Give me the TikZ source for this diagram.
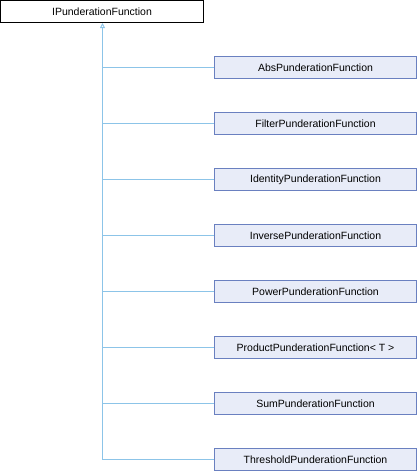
\documentclass[tikz,border=0pt]{standalone}
\usepackage{fontspec}
\setmainfont{Liberation Sans}
\usetikzlibrary{arrows.meta}
\definecolor{edgecol}{HTML}{8CC4E8}
\definecolor{boxfill}{HTML}{E8ECF8}
\definecolor{boxdraw}{HTML}{6A80C0}
\tikzset{
  cls/.style={draw=boxdraw, fill=boxfill, line width=1pt, minimum width=202pt, minimum height=22.5pt, inner sep=0pt, font=\fontsize{10.5}{12}\selectfont, anchor=center},
  basecls/.style={draw=black, fill=white, line width=1pt, minimum width=203pt, minimum height=22pt, inner sep=0pt, font=\fontsize{10.5}{12}\selectfont, anchor=center},
  edge/.style={draw=edgecol, line width=0.9pt}
}
\begin{document}
\begin{tikzpicture}[x=1pt,y=-1pt]
\useasboundingbox (0,0) rectangle (418,472);
\node[basecls] (base) at (102,11.5) {IPunderationFunction};
\node[cls] (c1) at (315.5,67.5) {AbsPunderationFunction};
\node[cls] (c2) at (315.5,123.5) {FilterPunderationFunction};
\node[cls] (c3) at (315.5,179.5) {IdentityPunderationFunction};
\node[cls] (c4) at (315.5,235.5) {InversePunderationFunction};
\node[cls] (c5) at (315.5,291.5) {PowerPunderationFunction};
\node[cls] (c6) at (315.5,347.5) {ProductPunderationFunction< T >};
\node[cls] (c7) at (315.5,403.5) {SumPunderationFunction};
\node[cls] (c8) at (315.5,459.5) {ThresholdPunderationFunction};
\coordinate (bot) at (102.5,459.5);
\draw[edge, -{Triangle[open, length=5pt, width=5pt]}] (bot) -- (base.south -| bot);
\foreach \i in {1,...,8} {
  \draw[edge] (c\i.west) -- (c\i.west -| bot);
}
\end{tikzpicture}
\end{document}
